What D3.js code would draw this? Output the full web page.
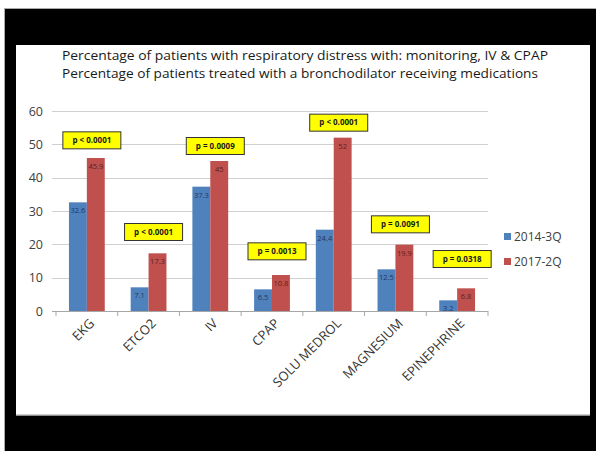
<!DOCTYPE html>
<html>
<head>
<meta charset="utf-8">
<script src="https://cdn.jsdelivr.net/npm/d3@7"></script>
<style>
  html, body { margin: 0; padding: 0; background: #fff; }
  svg { display: block; }
  text { font-family: "Open Sans", "Liberation Sans", sans-serif; }
</style>
</head>
<body>
<svg id="chart" width="596" height="451"></svg>
<script>
const categories = ["EKG", "ETCO2", "IV", "CPAP", "SOLU MEDROL", "MAGNESIUM", "EPINEPHRINE"];
const seriesNames = ["2014-3Q", "2017-2Q"];
const values2014 = [32.6, 7.1, 37.3, 6.5, 24.4, 12.5, 3.2];
const values2017 = [45.9, 17.3, 45, 10.8, 52, 19.9, 6.8];
const pLabels = ["p < 0.0001", "p < 0.0001", "p = 0.0009", "p = 0.0013", "p < 0.0001", "p = 0.0091", "p = 0.0318"];
const pLevels = [51.2, 23.7, 49.5, 17.9, 56.5, 26, 15.6];   // value level of the p-box centre
const yTicks = [0, 10, 20, 30, 40, 50, 60];
const titleLines = [
  "Percentage of patients with respiratory distress with: monitoring, IV & CPAP",
  "Percentage of patients treated with a bronchodilator receiving medications"
];
const colors = ["#4F81BD", "#C0504D"];
const labelColors = ["#1F3864", "#5C1E1C"];

const svg = d3.select("#chart");

// frame
svg.append("rect").attr("x", 4.5).attr("y", 8.5).attr("width", 600).attr("height", 450)
  .attr("fill", "#000").attr("stroke", "#aaa").attr("stroke-width", 1);
svg.append("rect").attr("x", 16).attr("y", 45).attr("width", 574).attr("height", 370)
  .attr("fill", "#fff");
svg.append("line").attr("x1", 16).attr("x2", 590).attr("y1", 415).attr("y2", 415)
  .attr("stroke", "#bdbdbd").attr("stroke-width", 1.5);

// title
svg.selectAll("text.title").data(titleLines).join("text")
  .attr("class", "title")
  .attr("x", 62).attr("y", (d, i) => 60 + i * 18)
  .attr("font-size", 12.5)
  .attr("textLength", (d, i) => i === 0 ? 486 : 476)
  .attr("lengthAdjust", "spacingAndGlyphs")
  .attr("fill", "#1a1a1a")
  .text(d => d);

const x0 = d3.scaleBand().domain(categories).range([56, 488]).paddingInner(0.42).paddingOuter(0.21);
const x1 = d3.scaleBand().domain(seriesNames).range([0, x0.bandwidth()]);
const y = d3.scaleLinear().domain([0, 60]).range([311, 111]);

// gridlines
svg.append("g").selectAll("line").data(yTicks.filter(d => d > 0)).join("line")
  .attr("x1", 52).attr("x2", 488)
  .attr("y1", d => Math.round(y(d)) + 0.5).attr("y2", d => Math.round(y(d)) + 0.5)
  .attr("stroke", "#d0d0d0").attr("stroke-width", 1);

// y axis labels
const yAxis = d3.axisLeft(y).tickValues(yTicks).tickSize(0).tickPadding(0);
const gy = svg.append("g").attr("transform", "translate(43,0)").call(yAxis);
gy.select(".domain").remove();
gy.selectAll("text").attr("font-size", 12.5).attr("fill", "#404040")
  .style("font-family", "'Open Sans', sans-serif");

// bars
const rows = categories.map((c, i) => ({ cat: c, vals: [values2014[i], values2017[i]] }));
const groups = svg.append("g").selectAll("g").data(rows).join("g")
  .attr("transform", d => `translate(${x0(d.cat)},0)`);
groups.selectAll("rect").data(d => d.vals.map((v, k) => ({ v, k }))).join("rect")
  .attr("x", d => x1(seriesNames[d.k]))
  .attr("width", x1.bandwidth())
  .attr("y", d => y(d.v))
  .attr("height", d => y(0) - y(d.v))
  .attr("fill", d => colors[d.k]);
groups.selectAll("text").data(d => d.vals.map((v, k) => ({ v, k }))).join("text")
  .attr("x", d => x1(seriesNames[d.k]) + x1.bandwidth() / 2)
  .attr("y", d => y(d.v) + 11)
  .attr("text-anchor", "middle")
  .attr("font-size", 7.5)
  .attr("fill", d => labelColors[d.k])
  .text(d => String(d.v));

// x axis baseline and ticks
const xAxis = d3.axisBottom(x0).tickSize(0).tickFormat("");
const gx = svg.append("g").attr("transform", "translate(0,311.5)").call(xAxis);
gx.select(".domain").attr("d", "M52,0H488").attr("stroke", "#a6a6a6");
const bounds = d3.range(categories.length + 1).map(i => 56 + i * x0.step());
svg.append("g").selectAll("line").data(bounds).join("line")
  .attr("x1", d => d).attr("x2", d => d).attr("y1", 311).attr("y2", 316)
  .attr("stroke", "#a6a6a6");

// category labels
svg.append("g").selectAll("text").data(categories).join("text")
  .attr("transform", d => `translate(${x0(d) + x0.bandwidth() / 2 + 5},${321}) rotate(-45)`)
  .attr("text-anchor", "end")
  .attr("dy", "0.35em")
  .attr("font-size", 13)
  .attr("fill", "#333")
  .text(d => d);

// p-value boxes
const pg = svg.append("g").selectAll("g").data(categories).join("g")
  .attr("transform", (d, i) => `translate(${x0(d) + x0.bandwidth() / 2 + 5},${y(pLevels[i])})`);
pg.append("rect").attr("x", -29).attr("y", -8.5).attr("width", 58).attr("height", 17)
  .attr("fill", "#FFFF00").attr("stroke", "#333").attr("stroke-width", 1);
pg.append("text").attr("text-anchor", "middle").attr("dy", "0.35em")
  .attr("font-size", 8).attr("font-weight", "bold").attr("fill", "#1a1a1a")
  .text((d, i) => pLabels[i]);

// legend
const lg = svg.append("g").selectAll("g").data(seriesNames).join("g")
  .attr("transform", (d, i) => `translate(504,${237 + i * 25})`);
lg.append("rect").attr("x", 0).attr("y", -4).attr("width", 7).attr("height", 7)
  .attr("fill", (d, i) => colors[i]);
lg.append("text").attr("x", 10).attr("dy", "0.35em").attr("font-size", 12)
  .attr("fill", "#404040").text(d => d);
</script>
</body>
</html>
